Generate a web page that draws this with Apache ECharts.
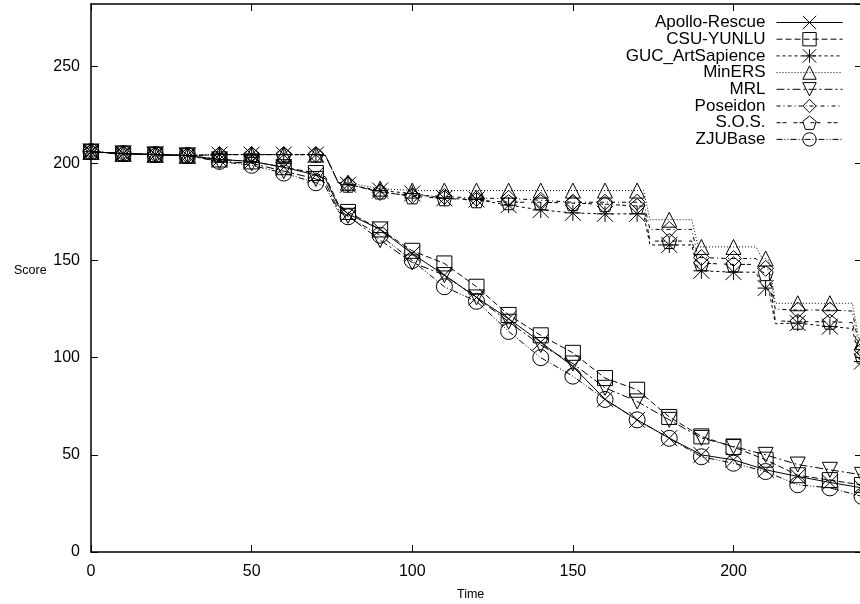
<!DOCTYPE html>
<html>
<head>
<meta charset="utf-8">
<script src="https://cdn.jsdelivr.net/npm/echarts@6/dist/echarts.min.js"></script>
<style>
  html, body { margin: 0; padding: 0; background: #fff; }
  #chart { width: 860px; height: 604px; }
</style>
</head>
<body>
<div id="chart"></div>
<script>
// sample times (markers are drawn every 10, the other times only shape the line)
const timesLow = [0, 10, 20, 30, 40, 50, 60, 70, 73, 77, 80, 90, 100, 110, 120, 130, 140, 150, 160, 170, 180, 190, 200, 210, 220, 230, 240]
const timesHigh = [0, 10, 20, 30, 40, 50, 60, 70, 73, 77, 80, 90, 100, 110, 120, 130, 140, 150, 160, 170, 172, 174, 180, 187, 189, 190, 200, 207, 209, 210, 211, 213, 220, 230, 237, 239, 240]

const apolloScore = [206, 205, 204.5, 204, 202, 201, 198, 194, 192, 178, 174, 166, 153.5, 142.5, 131, 120, 108, 95.5, 78.6, 68, 58.6, 50, 47.4, 42.3, 38.9, 35.8, 33]
const csuScore = [206, 205, 204.5, 204, 202, 201, 198, 195, 193, 179, 175, 166, 155, 148.5, 136.5, 122, 111.5, 102.5, 89.5, 83.5, 69.5, 59.5, 54, 47.5, 39.5, 37, 34.5]
const mrlScore = [206, 205, 204.5, 204, 201, 200, 196, 192, 190, 176, 173, 160.5, 149, 142.5, 131, 118.5, 106.5, 97, 84.5, 77.5, 68, 58.7, 54.3, 50, 45, 42.3, 39.7]
const zjuScore = [206, 205, 204.5, 204, 201, 199, 195, 190, 188, 175, 172.5, 163, 150, 136.5, 129, 113.5, 100, 90.5, 78.5, 68, 58.5, 49, 45.7, 41.4, 34.6, 33, 28.6]

const minersScore = [206, 205, 204.5, 204, 204.5, 204.5, 204.5, 204.5, 204, 190, 190, 187, 186, 186, 186, 186, 186, 186, 186, 186, 186, 171, 171, 171, 157, 157, 157, 157, 151, 151, 150, 128, 128, 128, 128, 110, 108]
const poseidonScore = [206, 205, 204.5, 204, 204.5, 204.5, 204.5, 204.5, 204, 190, 189.5, 185, 183.5, 183, 182, 182, 181, 180, 180, 180, 180, 166, 166, 166, 151.5, 151.5, 151, 151, 147, 146, 145, 125, 124.5, 124.5, 124, 106, 104]
const sosScore = [206, 205, 204.5, 204, 204.5, 204.5, 204.5, 204.5, 204, 190, 189, 185.5, 183, 182, 181, 180, 180, 179.5, 179, 178, 178, 160, 160, 160, 149, 148.6, 148, 148, 144, 143.5, 143, 119, 118.5, 118.5, 118, 103, 101]
const gucScore = [206, 205, 204.5, 204, 204.5, 204.5, 204.5, 204.5, 204, 190, 189, 186, 184.5, 182, 181.4, 178.5, 176, 174.5, 174, 174, 174, 158, 158, 158, 145, 144.7, 144, 144, 137, 135.8, 135, 117.5, 117.8, 116, 115, 100, 98]

const xTicks = { min: 0, max: 240, interval: 50 }
const yTicks = { min: 0, max: 282, interval: 50 }

const FONT = 'Liberation Sans, Arial, sans-serif'

function buildData (times, values) {
  return times.map((t, i) => {
    if (t % 10 === 0) return [t, values[i]]
    return { value: [t, values[i]], symbol: 'none' }
  })
}

function makeSeries (name, times, values, symbol, dash, size) {
  return {
    name: name,
    type: 'line',
    data: buildData(times, values),
    symbol: symbol,
    symbolSize: size,
    showAllSymbol: true,
    silent: true,
    lineStyle: { color: '#000', width: 1, type: dash },
    itemStyle: { color: 'rgba(0,0,0,0)', borderColor: '#000', borderWidth: 1 },
    emphasis: { disabled: true }
  }
}

const SYM_X = 'path://M0,0L10,10M10,0L0,10'
const SYM_STAR = 'path://M0,0L10,10M10,0L0,10M5,0L5,10M0,5L10,5'
const SYM_DOWN = 'path://M0,0L10,0L5,8.66Z'
const SYM_PENTA = 'path://M5,0L10,3.8L8.1,9.5L1.9,9.5L0,3.8Z'

const series = [
  makeSeries('Apollo-Rescue', timesLow, apolloScore, SYM_X, 'solid', 16),
  makeSeries('CSU-YUNLU', timesLow, csuScore, 'rect', [6, 3], 15),
  makeSeries('GUC_ArtSapience', timesHigh, gucScore, SYM_STAR, [3, 3], 16),
  makeSeries('MinERS', timesHigh, minersScore, 'triangle', [1, 2], 15),
  makeSeries('MRL', timesLow, mrlScore, SYM_DOWN, [8, 3, 2, 3], 15),
  makeSeries('Poseidon', timesHigh, poseidonScore, 'diamond', [4, 3, 1, 3], 16),
  makeSeries('S.O.S.', timesHigh, sosScore, SYM_PENTA, [4, 2, 4, 7], 15),
  makeSeries('ZJUBase', timesLow, zjuScore, 'circle', [6, 2, 1, 2, 1, 2], 16)
]

const axisLine = { show: true, onZero: false, lineStyle: { color: '#000', width: 1.5 } }
const axisTick = { show: true, inside: true, length: 7, lineStyle: { color: '#000', width: 1 } }
const labelStyle = { color: '#000', fontSize: 16, fontFamily: FONT, showMaxLabel: false }

const chart = echarts.init(document.getElementById('chart'), null, { renderer: 'canvas' })

chart.setOption({
  animation: false,
  backgroundColor: '#fff',
  grid: { left: 91, top: 4, width: 771, height: 548, containLabel: false, outerBoundsMode: 'none' },
  xAxis: [
    Object.assign({ type: 'value', position: 'bottom', axisLine, axisTick, splitLine: { show: false },
      axisLabel: Object.assign({ margin: 12 }, labelStyle) }, xTicks),
    Object.assign({ type: 'value', position: 'top', axisLine, axisTick, splitLine: { show: false },
      axisLabel: { show: false } }, xTicks)
  ],
  yAxis: [
    Object.assign({ type: 'value', position: 'left', axisLine, axisTick, splitLine: { show: false },
      axisLabel: Object.assign({ margin: 11 }, labelStyle) }, yTicks),
    Object.assign({ type: 'value', position: 'right', axisLine, axisTick, splitLine: { show: false },
      axisLabel: { show: false } }, yTicks)
  ],
  legend: {
    orient: 'vertical',
    right: 17,
    top: 14,
    align: 'right',
    padding: 0,
    itemWidth: 66,
    itemHeight: 16.7,
    itemGap: -0.3,
    selectedMode: false,
    itemStyle: { color: 'rgba(0,0,0,0)', borderColor: '#000', borderWidth: 1 },
    lineStyle: { width: 1 },
    textStyle: { color: '#000', fontSize: 17, fontFamily: FONT, padding: [0, 6, 0, 0] }
  },
  graphic: [
    { type: 'text', left: 14, top: 264, style: { text: 'Score', fill: '#000', font: '12.5px ' + FONT } },
    { type: 'text', left: 457, top: 588, style: { text: 'Time', fill: '#000', font: '12.5px ' + FONT } }
  ],
  series: series
})
</script>
</body>
</html>
